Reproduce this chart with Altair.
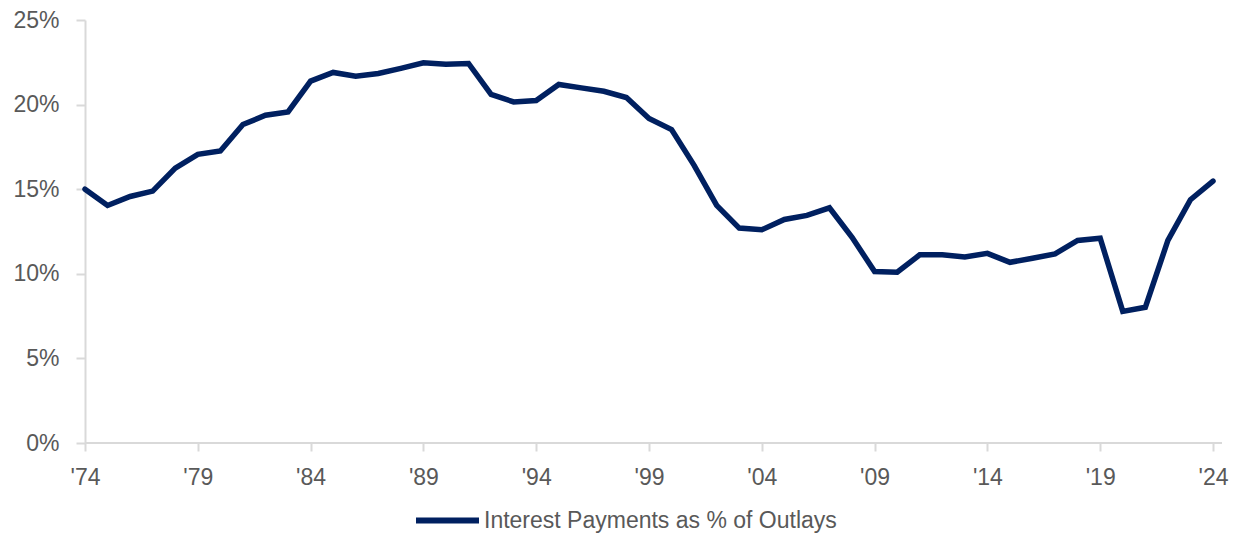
import altair as alt
import pandas as pd

years = list(range(1974, 2025))
values = [
    15.00, 14.04, 14.57, 14.89, 16.25, 17.06, 17.26, 18.82, 19.37, 19.57,
    21.39, 21.90, 21.68, 21.84, 22.14, 22.47, 22.39, 22.43, 20.60, 20.16,
    20.24, 21.19, 20.99, 20.79, 20.42, 19.18, 18.52, 16.41, 14.04, 12.70,
    12.60, 13.21, 13.45, 13.90, 12.16, 10.13, 10.09, 11.12, 11.12, 11.00,
    11.21, 10.68, 10.92, 11.18, 11.97, 12.10, 7.78, 8.02, 11.97, 14.38,
    15.48,
]
series_name = "Interest Payments as % of Outlays"
x_ticks = list(range(1974, 2025, 5))
y_ticks = [0, 0.05, 0.10, 0.15, 0.20, 0.25]

df = pd.DataFrame({
    "year": years,
    "value": [v / 100 for v in values],
    "series": [series_name] * len(years),
})

W, H = 1128, 423
GRAY = "#d9d9d9"
TXT = "#595959"
NAVY = "#002060"
FS = 23

line = alt.Chart(df).mark_line(strokeWidth=5.5, strokeJoin="miter", strokeCap="round").encode(
    x=alt.X(
        "year:Q",
        scale=alt.Scale(domain=[1974, 2024], nice=False, zero=False),
        axis=alt.Axis(
            values=x_ticks,
            labelExpr="\"'\" + substring(toString(datum.value), 2)",
            title=None,
            grid=False,
            domain=False,
            labelPadding=15,
            labelFlush=False,
            labelOverlap=False,
            tickSize=8,
            labelFont="Liberation Sans",
            labelFontSize=FS,
            labelColor=TXT,
            tickColor=GRAY,
            tickWidth=2,
        ),
    ),
    y=alt.Y(
        "value:Q",
        scale=alt.Scale(domain=[0, 0.25], nice=False),
        axis=alt.Axis(
            values=y_ticks,
            format=".0%",
            title=None,
            grid=False,
            labelPadding=17,
            labelFlush=False,
            labelOverlap=False,
            tickSize=9,
            labelFont="Liberation Sans",
            labelFontSize=FS,
            labelColor=TXT,
            domainColor=GRAY,
            domainWidth=2,
            tickColor=GRAY,
            tickWidth=2,
        ),
    ),
    color=alt.Color(
        "series:N",
        scale=alt.Scale(domain=[series_name], range=[NAVY]),
        legend=alt.Legend(
            title=None,
            orient="none",
            legendX=328,
            legendY=466,
            symbolType="stroke",
            symbolSize=3969,
            symbolStrokeWidth=6,
            labelFontSize=FS,
            labelFont="Liberation Sans",
            labelColor=TXT,
            labelOffset=2,
            labelLimit=0,
            padding=0,
        ),
    ),
)

base_rule = alt.Chart(pd.DataFrame({"y": [0]})).mark_rule(color=GRAY, strokeWidth=2).encode(
    x=alt.value(0), x2=alt.value(W + 9), y=alt.value(H)
)

chart = alt.layer(base_rule, line).properties(
    width=W,
    height=H,
    autosize=alt.AutoSizeParams(type="none"),
    padding={"left": 77, "top": 12, "right": 19, "bottom": 90},
    background="white",
).configure_view(stroke=None)

chart.save("out.html", embed_options={"renderer": "svg", "actions": False})
